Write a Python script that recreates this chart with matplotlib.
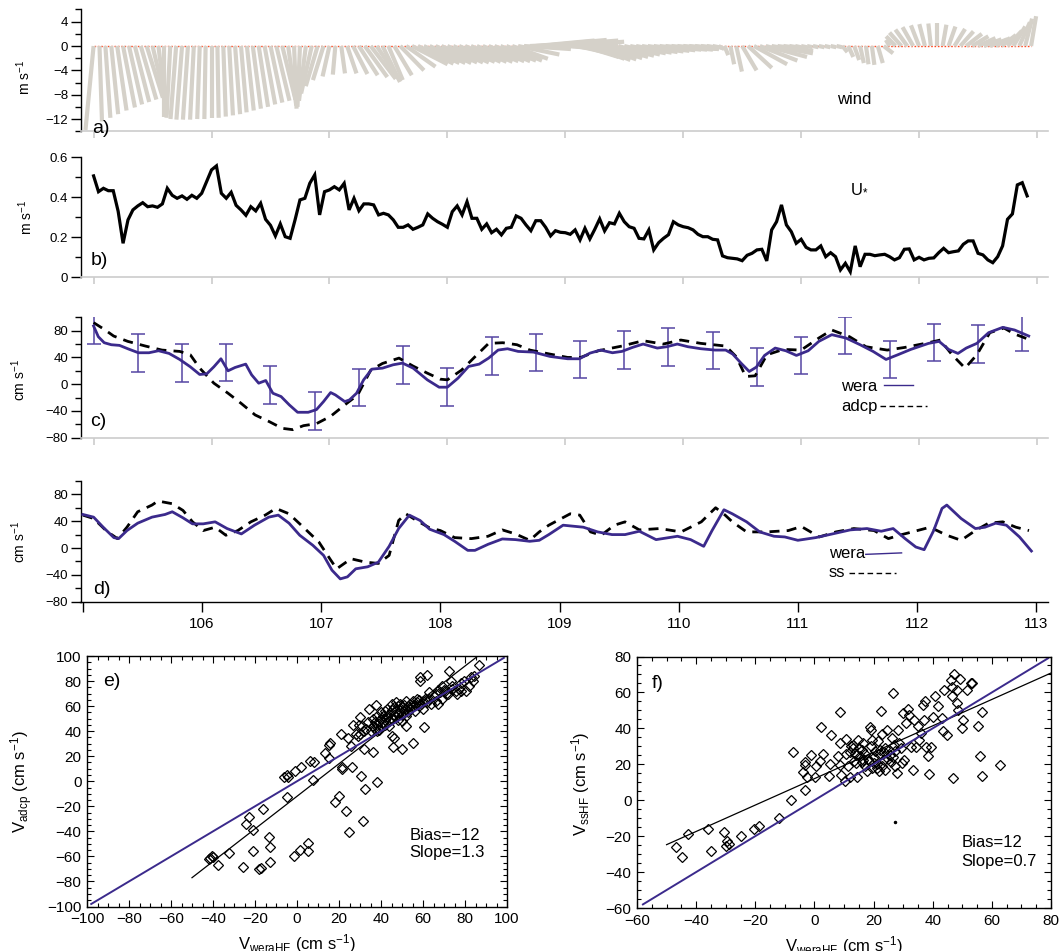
import numpy as np
import matplotlib
matplotlib.use('Agg')
import matplotlib.pyplot as plt
from matplotlib.collections import LineCollection
from matplotlib.ticker import MultipleLocator, FixedLocator, FuncFormatter

plt.rcParams['font.family'] = ['Liberation Sans', 'DejaVu Sans']
plt.rcParams['mathtext.fontset'] = 'custom'
plt.rcParams['mathtext.rm'] = 'Liberation Sans'
plt.rcParams['mathtext.it'] = 'Liberation Sans:italic'
plt.rcParams['mathtext.bf'] = 'Liberation Sans:bold'

# ---------------- data ----------------
# (a) wind sticks, one every 0.05 day from day 105.0 (m/s)
WIND_T0, WIND_DT = 105.0, 0.05
wind_u = [-1.3, 0.4, 0.8, 1.1, 1.5, 1.9, 2.1, 2.3, 2.5, 2.6, 2.3, 1.3,
          0.0, -0.6, -0.9, -0.9, -0.8, -0.6, -0.4, -0.2, 0.0, 0.2, 0.4, 0.6, 0.8, 0.9,
          1.1, 1.3, 1.5, 1.7, 1.9, 2.1, 2.1, 1.3, 0.4, -0.4, -1.1, -1.7, -1.9, -1.7,
          -1.1, -0.4, 0.6, 1.5, 2.3, 3.0, 3.6, 4.0, 3.8, 2.8, 2.3, 2.8, 3.8, 4.7, 5.7,
          5.7, 5.7, 5.7, 5.7, 5.7, 5.7, 5.7, 5.7, 5.7, 5.7, 5.7, 5.7, 5.7, 5.7, 5.7, 5.7,
          5.7, 6.6, 7.5, 8.5, 9.4, 10.4, 11.3, 11.3, 9.4, 6.6, 6.6,
          5.7, 5.7, 5.7, 5.7, 5.7, 5.7, 5.7, 5.7, 5.7, 5.7, 5.7, 5.7, 5.7, 5.7, 5.7, 5.7,
          5.7, 5.7, 5.7,
          4.7, 3.8, 2.8, 1.9, 1.5, 0.9, 0.6, 0.6, 0.9, 2.3, 3.8, 5.3, 6.0, 6.6, 6.6, 5.7,
          3.8, 1.9,
          0.9, 0.9, 0.9, 0.9, 0.9, 0.9, 0.9, 0.9,
          0.8, 0.8, 0.8, 0.6, 0.4, 0.4, 0.8, 1.5,
          -0.6, -1.5, -1.9, -1.9, -1.7, -1.3, -0.9, -0.4, 0.0, 0.6, 1.1, 1.7, 2.1, 2.5,
          2.6, 2.8, 2.8, 2.8, 2.3, 2.3, 2.3, 1.9, 1.7, 1.1, 0.8]
wind_v = [-13.8, -12.4, -11.8, -11.2, -10.6, -10.1, -9.6, -9.2, -8.8, -8.5, -10.0, -11.3,
          -11.6, -11.8, -12.0, -12.1, -12.1, -12.1, -12.0, -12.0, -11.9, -11.8, -11.6,
          -11.4, -11.2, -10.9, -10.6, -10.3, -10.0, -9.6, -9.3, -9.0, -8.8,
          -9.8, -10.3, -10.0, -9.0, -7.8, -6.6, -5.6, -5.0, -4.7, -4.5, -4.5, -4.6, -4.8,
          -5.1, -5.4, -5.8, -5.9, -5.6, -4.8, -4.0, -3.4, -3.0,
          -2.9, -2.8, -2.8, -2.8, -2.7, -2.7, -2.7, -2.6, -2.6, -2.6, -2.6, -2.5, -2.5,
          -2.5, -2.4, -2.4,
          -2.1, -1.4, -0.5, 0.4, 0.9, 1.0, 0.9, 0.7, 0.3, -0.3, -0.8, -1.3, -1.8, -2.1,
          -2.3, -2.2, -2.0, -1.8, -1.6, -1.4, -1.2, -1.1, -1.0, -0.9, -0.8, -0.7, -0.6,
          -0.6, -0.6, -0.5, -0.5, -0.4, -0.3, -0.3, -0.3, -0.5, -1.5, -3.0, -4.2, -4.0,
          -3.6, -3.0, -2.4, -1.8, -1.2, -0.8, -0.5, -0.3,
          -0.2, -0.2, -0.2, -0.2, -0.2, -0.2, -0.2, -0.2,
          -1.0, -1.8, -2.3, -2.8, -3.0, -3.1, -2.8, -1.2,
          1.0, 1.6, 2.2, 2.7, 3.1, 3.4, 3.6, 3.7, 3.7, 3.5, 3.2, 2.8, 2.4, 2.0, 1.6, 1.3,
          1.1, 1.1, 1.3, 1.8, 2.5, 3.2, 3.9, 4.5, 4.9]

# (b) friction velocity, hourly from day 105.0 (m/s)
USTAR_T0, USTAR_DT = 105.0, 1.0 / 24.0
ustar = [0.507, 0.428, 0.445, 0.433, 0.433, 0.33, 0.17, 0.287, 0.337, 0.357, 0.373,
         0.353, 0.357, 0.35, 0.367, 0.445, 0.41, 0.395, 0.407, 0.39, 0.41, 0.395, 0.42,
         0.478, 0.537, 0.557, 0.42, 0.395, 0.425, 0.36, 0.337, 0.31, 0.353, 0.332, 0.37,
         0.29, 0.26, 0.207, 0.267, 0.203, 0.195, 0.287, 0.387, 0.395, 0.47, 0.512, 0.312,
         0.428, 0.437, 0.453, 0.437, 0.47, 0.337, 0.395, 0.333, 0.367, 0.367, 0.362,
         0.312, 0.32, 0.312, 0.287, 0.25, 0.25, 0.262, 0.24, 0.25, 0.262, 0.317, 0.295,
         0.278, 0.265, 0.25, 0.328, 0.357, 0.312, 0.378, 0.295, 0.295, 0.24, 0.267,
         0.223, 0.24, 0.212, 0.245, 0.25, 0.307,
         0.295, 0.262, 0.233, 0.283, 0.283, 0.25, 0.207, 0.233, 0.225, 0.223, 0.215,
         0.237, 0.187, 0.245, 0.192, 0.24, 0.292, 0.232, 0.273, 0.267, 0.32, 0.278,
         0.253, 0.245, 0.195, 0.192, 0.237, 0.137, 0.173, 0.195, 0.213, 0.278, 0.262,
         0.253, 0.248, 0.237, 0.215, 0.203, 0.203, 0.19, 0.187, 0.107, 0.098, 0.095,
         0.092, 0.083, 0.11, 0.12, 0.137, 0.14, 0.082, 0.237, 0.278, 0.362, 0.262, 0.228,
         0.17, 0.19, 0.15, 0.137, 0.137, 0.157, 0.103, 0.123, 0.103, 0.037, 0.07, 0.028,
         0.157, 0.053, 0.115, 0.115, 0.108, 0.112, 0.115, 0.103, 0.087, 0.098, 0.14,
         0.142, 0.087, 0.1, 0.087, 0.095, 0.097, 0.123, 0.145, 0.123, 0.128, 0.132,
         0.165, 0.182, 0.182, 0.12, 0.112, 0.087, 0.073, 0.103, 0.157, 0.29, 0.317,
         0.462, 0.473, 0.407]

# (c) WERA vs ADCP (day, cm/s)
wera_c = [(105.0, 87), (105.04, 71), (105.09, 62), (105.15, 59), (105.22, 58), (105.29, 53),
          (105.38, 47), (105.47, 47), (105.55, 50), (105.64, 46), (105.73, 37), (105.82, 26),
          (105.9, 14.5), (105.96, 15.5), (106.02, 26), (106.08, 38), (106.14, 20), (106.2, 25),
          (106.29, 30), (106.34, 14), (106.4, 1.5), (106.46, 5.5), (106.52, -13.5),
          (106.59, -18.5), (106.66, -31), (106.73, -42), (106.82, -42), (106.89, -38),
          (106.95, -26), (107.01, -12.5), (107.05, -16), (107.13, -26), (107.17, -23.5),
          (107.23, -13.5), (107.29, 6.5), (107.36, 22.5), (107.45, 24), (107.54, 29),
          (107.62, 31.5), (107.71, 24), (107.83, 6.5), (107.93, -4.5), (108.0, -4.5),
          (108.09, 9), (108.18, 26.5), (108.27, 30), (108.35, 39), (108.43, 51), (108.51, 53),
          (108.6, 49), (108.73, 48), (108.87, 41.5), (109.02, 38), (109.12, 38), (109.21, 46.5),
          (109.3, 51), (109.4, 47), (109.48, 49), (109.57, 55), (109.66, 60), (109.78, 54),
          (109.86, 56), (109.95, 60), (110.04, 56), (110.15, 53), (110.27, 51), (110.36, 51),
          (110.42, 45), (110.49, 31.5), (110.56, 19), (110.62, 25.5), (110.69, 43), (110.78, 54),
          (110.87, 50), (110.96, 43), (111.06, 50), (111.15, 64), (111.26, 74), (111.38, 69),
          (111.5, 59), (111.61, 49), (111.72, 37), (111.82, 44), (111.93, 52), (112.08, 61),
          (112.17, 64), (112.25, 52), (112.33, 46), (112.4, 54), (112.49, 61), (112.59, 77),
          (112.71, 85), (112.81, 81), (112.93, 72)]
adcp_c = [(105.0, 92), (105.09, 82), (105.17, 72), (105.29, 64), (105.44, 57), (105.58, 51),
          (105.73, 49), (105.82, 44), (105.9, 24), (106.02, 1.5), (106.14, -13.5),
          (106.25, -28.5), (106.37, -46), (106.49, -56), (106.6, -66), (106.69, -68),
          (106.78, -62), (106.89, -59), (107.01, -48), (107.13, -31), (107.24, -16),
          (107.35, 21), (107.45, 31), (107.59, 39), (107.71, 27), (107.83, 16.5), (107.94, 7.5),
          (108.0, 6.5), (108.12, 21), (108.24, 42), (108.35, 61), (108.47, 62), (108.59, 59),
          (108.7, 51), (108.87, 45), (109.02, 40), (109.13, 40), (109.28, 50), (109.48, 57),
          (109.66, 65), (109.83, 60), (109.98, 66), (110.15, 61), (110.36, 57), (110.45, 41),
          (110.53, 11.5), (110.61, 12.5), (110.71, 44), (110.85, 52), (111.0, 51), (111.15, 69),
          (111.26, 81), (111.41, 71), (111.55, 56), (111.73, 51), (111.88, 55), (112.08, 62),
          (112.18, 66), (112.28, 44), (112.39, 24), (112.49, 44), (112.6, 77), (112.72, 84),
          (112.81, 75), (112.93, 67)]
# WERA error bars every 9 h from day 105.0
ERR_T0, ERR_DT = 105.0, 0.375
err_center = [88, 46.5, 32, 32.5, -1.5, -40, -5, 29, -4.5, 42, 47.5, 37, 51, 55.5, 50, 26,
              42.5, 73, 37, 62, 60, 78]
err_half = 28

# (d) WERA vs SeaSonde (day, cm/s)
wera_d = [(105.0, 50), (105.09, 46), (105.17, 31), (105.26, 15.5), (105.3, 14), (105.37, 26),
          (105.46, 37), (105.58, 46), (105.69, 50), (105.75, 54), (105.84, 45), (105.92, 36),
          (106.01, 36), (106.11, 39), (106.21, 29), (106.33, 21), (106.44, 34), (106.56, 46),
          (106.64, 49), (106.73, 37), (106.82, 19), (106.93, 4), (107.02, -11), (107.09, -33),
          (107.16, -46), (107.22, -43), (107.29, -31), (107.39, -28), (107.48, -21),
          (107.57, 2.5), (107.65, 29), (107.74, 49), (107.83, 41), (107.91, 28), (108.03, 20),
          (108.12, 10), (108.23, -3.5), (108.29, -3.5), (108.4, 5.5), (108.52, 13.5),
          (108.63, 12.5), (108.75, 10), (108.83, 11.5), (108.91, 20), (109.03, 34), (109.2, 31),
          (109.32, 24), (109.44, 20), (109.55, 20), (109.67, 25), (109.81, 12.5), (109.99, 17.5),
          (110.1, 12.5), (110.21, 2.5), (110.28, 26), (110.38, 57), (110.45, 51), (110.57, 39),
          (110.68, 24), (110.8, 17.5), (110.89, 16.5), (111.0, 11.5), (111.15, 15.5),
          (111.29, 21), (111.44, 27), (111.58, 29), (111.7, 25), (111.8, 29), (111.9, 14),
          (111.99, 1.5), (112.06, -2.5), (112.14, 26), (112.21, 59), (112.25, 64), (112.37, 44),
          (112.49, 29), (112.57, 31), (112.66, 37), (112.75, 34), (112.86, 16.5), (112.96, -4.5)]
ss_d = [(105.0, 49), (105.09, 44), (105.2, 25), (105.29, 14), (105.37, 31), (105.46, 54),
        (105.58, 64), (105.63, 70), (105.75, 66), (105.84, 56), (105.92, 39), (106.01, 26),
        (106.11, 31), (106.2, 19), (106.3, 26), (106.41, 39), (106.53, 49), (106.62, 59),
        (106.73, 51), (106.85, 31), (106.98, 9), (107.08, -18), (107.13, -31), (107.25, -16),
        (107.37, -21), (107.48, -23), (107.57, -11), (107.65, 41), (107.71, 51), (107.8, 41),
        (107.91, 30), (108.0, 26), (108.12, 15.5), (108.26, 14), (108.4, 17.5), (108.52, 27),
        (108.63, 21), (108.75, 11.5), (108.83, 24), (108.91, 34), (109.09, 51), (109.17, 49),
        (109.26, 24), (109.35, 19), (109.46, 34), (109.55, 39), (109.67, 27), (109.84, 29),
        (110.02, 24), (110.19, 39), (110.31, 60), (110.39, 49), (110.45, 39), (110.57, 24),
        (110.74, 24), (110.92, 26), (111.03, 32), (111.18, 16.5), (111.32, 24), (111.47, 29),
        (111.64, 26), (111.76, 14), (111.85, 19), (111.96, 24), (112.11, 31), (112.25, 19),
        (112.37, 11.5), (112.49, 26), (112.6, 37), (112.72, 39), (112.83, 31), (112.94, 26)]
day_ticks = [105, 106, 107, 108, 109, 110, 111, 112, 113]

# (e) scatter V_weraHF vs V_adcp
e_pts = [(-42, -62), (-40.7, -59.4), (-40.1, -60.2), (-41.2, -61.2), (-37.5, -66.5),
         (-32.6, -57.5), (-25.7, -68.1), (-24.1, -34.1), (-22.8, -28.8), (-21.1, -38.9),
         (-21.1, -55.4), (-16.2, -22.2), (-17.2, -69.2), (-17.9, -70), (-13.5, -44.8),
         (-12.7, -52.2), (-12.7, -64.7), (-4.8, -12.4), (-1.6, -59.4), (1.2, -54.8),
         (5.3, -49.5), (5.3, -55.4), (-6.1, 3.6), (-4.8, 5.2), (-4.2, 3.6), (-0.9, 7.8),
         (2, 11), (6.1, 15.8), (8.2, 15), (7.8, 0.9), (13.5, 22.2), (15.4, 18.5), (15.1, 29.1),
         (15.9, 30.9), (18, -16.9), (20, -11.6), (21.3, 11.6), (21.6, 9.7), (20.8, 37.6),
         (23.3, -23.5), (24.9, -40.8), (26.2, 11), (24.1, 34.9), (25.7, 28.3), (26.9, 45),
         (28.2, 38.1), (29.5, 45), (30.1, 50.9), (30.6, 4.4), (31.4, -31.5), (32.2, -6.2),
         (31.8, 25.6), (34.4, 57.5), (36.3, 23), (37.6, 61), (38.3, -0.9), (29, 36.3),
         (29.8, 37.6), (45.8, 27), (50.2, 25.6), (55.1, 30.9), (60.5, 43.4), (45.3, 36.3),
         (46.1, 34.9), (51.8, 44.2), (58.4, 80.1), (58.4, 83.3), (62.1, 84.9), (72.2, 88),
         (69, 76.1), (67.3, 61.5), (70.6, 72.1), (73.1, 80.1), (77.1, 73.4), (80.4, 72.1),
         (82, 76.1), (83.7, 80.1), (86.9, 92.8), (73.9, 76.1), (75.5, 72.1), (79.6, 80.1),
         (78, 78.8), (84.5, 84.1), (82.9, 83.3),
         (35, 40), (36, 44), (36, 50), (37, 42), (37, 47), (38, 45), (38, 52), (39, 48),
         (40, 44), (40, 50), (40, 55), (41, 47), (41, 52), (42, 49), (42, 56), (43, 51),
         (43, 58), (44, 48), (44, 54), (45, 50), (45, 57), (45, 62), (46, 53), (46, 59),
         (47, 51), (47, 56), (47, 63), (48, 54), (48, 60), (49, 57), (49, 62), (50, 53),
         (50, 59), (51, 56), (51, 61), (52, 58), (52, 64), (53, 55), (53, 60), (54, 62),
         (54, 58), (55, 60), (55, 64), (56, 61), (57, 63), (57, 66), (58, 60), (58, 65),
         (59, 62), (60, 64), (61, 66), (62, 63), (63, 66), (65, 68), (66, 70), (68, 71),
         (70, 73), (71, 70), (33, 42), (34, 47), (32, 40), (31, 44), (38, 40), (39, 41),
         (42, 45), (44, 44), (48, 49), (50, 48), (52, 52), (56, 56), (60, 58), (64, 62),
         (66, 64), (69, 66), (72, 70), (74, 74), (76, 70), (78, 72), (63, 71), (67, 73)]
e_bias, e_slope = -12, 1.3
e_fit_x = (-50, 86.2)
e_one_x = (-98, 98.5)

# (f) scatter V_weraHF vs V_ssHF
f_pts = [(-46.8, -26.1), (-44.9, -31.6), (-42.8, -18.6), (-36.1, -15.9), (-35.1, -28.1),
         (-30.7, -17.9), (-29.9, -25.3), (-29.4, -22.9), (-29.0, -24.2), (-24.8, -19.8),
         (-20.5, -15.9), (-18.7, -14.6), (-11.9, -9.7), (-7.8, 0.3), (-7.3, 26.6),
         (-3.9, 15.5), (-3.3, 19.7), (-3.2, 21.0), (-3.2, 5.8), (-2.4, 13.2), (-1.2, 25.3),
         (0.2, 13.2), (0.5, 18.8), (1.9, 21.6), (2.2, 40.7), (2.8, 25.9), (4.8, 13.6),
         (5.3, 20.3), (5.6, 36.4), (7.9, 24.4), (8.5, 49.2), (8.5, 19.7), (8.7, 31.8),
         (9.1, 14.2), (10.2, 10.5), (10.6, 34.0), (10.8, 25.9), (11.4, 18.8), (12.0, 13.2),
         (12.5, 30.3), (13.1, 29.0), (13.7, 26.2), (14.2, 20.7), (14.5, 13.2), (14.8, 33.3),
         (15.4, 24.4), (16.0, 28.1), (16.5, 22.5), (17.1, 18.8), (17.7, 16.0), (18.3, 21.6),
         (18.8, 40.7), (19.1, 39.2), (19.4, 33.3), (20.0, 20.7), (20.6, 27.2), (21.1, 17.9),
         (21.7, 16.0), (22.3, 28.1), (22.6, 49.8), (22.9, 37.0), (23.4, 22.5), (24.0, 17.0),
         (24.6, 39.2), (25.2, 28.1), (25.7, 25.3), (26.3, 34.6), (26.6, 59.6), (27.1, 27.2),
         (27.4, 18.8), (28.0, 15.1), (28.2, 39.2), (28.6, 31.8), (29.2, 29.0), (29.7, 20.7),
         (30.1, 48.5), (30.3, 22.5), (30.9, 42.9), (31.5, 50.7), (32.0, 47.6), (32.6, 29.9),
         (33.2, 17.0), (33.8, 44.8), (34.3, 29.9), (34.9, 41.1), (35.5, 33.6), (36.1, 37.4),
         (36.6, 53.1), (37.2, 44.8), (37.4, 55.0), (37.8, 29.9), (38.3, 24.4), (38.9, 14.7),
         (39.5, 29.9), (40.1, 46.6), (40.9, 58.1), (41.8, 52.2), (43.0, 45.7), (43.5, 38.3),
         (43.9, 61.5), (44.7, 36.4), (46.2, 67.0), (46.4, 63.3), (46.6, 58.1), (46.7, 12.1),
         (47.3, 70.4), (48.1, 61.5), (48.7, 50.3), (49.2, 67.4), (49.8, 40.1), (50.4, 44.8),
         (51.5, 61.5), (53.3, 65.5), (55.3, 41.4), (56.1, 24.7), (56.5, 13.6), (56.7, 49.0),
         (62.7, 19.4), (52.9, 65.2), (48.1, 54.0),
         (12, 27), (13, 31), (14, 25), (15, 29), (16, 21), (17, 26), (18, 23), (19, 30),
         (20, 24), (21, 20), (22, 26), (23, 19), (24, 29), (25, 23), (26, 21), (27, 31),
         (13.5, 22), (16.5, 32), (19.5, 18), (21.5, 33), (23.5, 27), (26.5, 24)]
f_dot = (27.1, -12.3)
f_bias, f_slope = 12, 0.735
f_fit_x = (-50, 80)
f_one_x = (-58, 79)

# ---------------- style ----------------
PURPLE = '#3b2a8c'
ERRC = '#5545a3'
STICK = '#d5d1c9'
REDL = '#ff4a22'
GRID = '#cccccc'
WIND_SCALE = 0.053   # days per m/s along the time axis
TS_XLIM = (104.889, 113.09)
D_XLIM = (104.98, 113.096)

W, H = 1063, 951
fig = plt.figure(figsize=(W / 100, H / 100), dpi=100)


def ax_px(l, t, r, b):
    return fig.add_axes([l / W, 1 - b / H, (r - l) / W, (b - t) / H])


axa = ax_px(80.5, 9.5, 1047.6, 131.2)
axb = ax_px(80.5, 157.3, 1047.6, 277.3)
axc = ax_px(80.5, 317.3, 1047.6, 437.7)
axd = ax_px(80.5, 480.9, 1047.6, 601.7)
axe = ax_px(87, 656, 507, 906.5)
axf = ax_px(637, 656.5, 1051, 908)

fmt_g = FuncFormatter(lambda v, p: ('%g' % v).replace('-', '\u2212'))


def style_ts(ax, ylim, major, minor, gray_bottom=True, xlim=TS_XLIM):
    ax.set_xlim(*xlim)
    ax.set_ylim(*ylim)
    ax.patch.set_visible(False)
    for s in ['top', 'right']:
        ax.spines[s].set_visible(False)
    ax.spines['left'].set_linewidth(1.0)
    ax.yaxis.set_major_locator(MultipleLocator(major))
    ax.yaxis.set_minor_locator(MultipleLocator(minor))
    ax.yaxis.set_major_formatter(fmt_g)
    ax.tick_params(axis='y', which='major', direction='out', length=7.5, width=1.0,
                   labelsize=9.5, pad=1.5)
    ax.tick_params(axis='y', which='minor', direction='out', length=4, width=1.0)
    ax.xaxis.set_major_locator(FixedLocator(day_ticks))
    if gray_bottom:
        ax.spines['bottom'].set_color(GRID)
        ax.spines['bottom'].set_linewidth(1.2)
        ax.tick_params(axis='x', which='major', direction='out', length=5, width=1.2,
                       color=GRID, labelbottom=False)
    else:
        ax.spines['bottom'].set_linewidth(1.0)
        ax.tick_params(axis='x', which='major', direction='out', length=7, width=1.0,
                       labelsize=11, pad=4)


# (a) wind sticks
style_ts(axa, (-14, 6), 4, 2)
n = min(len(wind_u), len(wind_v))
wt = WIND_T0 + WIND_DT * np.arange(n)
segs = [[(t, 0.0), (t + u * WIND_SCALE, v)] for t, u, v in zip(wt, wind_u[:n], wind_v[:n])]
axa.add_collection(LineCollection(segs, colors=STICK, linewidths=3.0, capstyle='butt', zorder=2))
axa.plot([wt[0], wt[-1]], [0, 0], color=REDL, lw=1.0, ls=(0, (1.2, 1.2)), zorder=1)
axa.text(0.7996, 0.262, 'wind', transform=axa.transAxes, ha='center', va='center', fontsize=12)
axa.text(0.012, -0.017, 'a)', transform=axa.transAxes, ha='left', va='baseline', fontsize=14)

# (b) u*
style_ts(axb, (0, 0.6), 0.2, 0.1)
ut = USTAR_T0 + USTAR_DT * np.arange(len(ustar))
axb.plot(ut, ustar, color='black', lw=2.3, solid_joinstyle='miter')
axb.text(0.8055, 0.742, r'U$_{*}$', transform=axb.transAxes, ha='center', va='center', fontsize=12)
axb.text(0.011, 0.1025, 'b)', transform=axb.transAxes, ha='left', va='baseline', fontsize=14)

# (c) wera vs adcp
style_ts(axc, (-80, 100), 40, 20)
wc = np.array(wera_c).T
ac = np.array(adcp_c).T
et = ERR_T0 + ERR_DT * np.arange(len(err_center))
axc.errorbar(et, err_center, yerr=err_half, fmt='none', ecolor=ERRC, elinewidth=1.1,
             capsize=5, capthick=1.1, zorder=2)
axc.plot(ac[0], ac[1], color='black', lw=2.0, ls=(0, (3.6, 2.6)), zorder=3)
axc.plot(wc[0], wc[1], color=PURPLE, lw=2.0, zorder=4)
axc.text(0.7864, 0.4236, 'wera', transform=axc.transAxes, ha='left', va='center', fontsize=12)
axc.plot([0.831, 0.861], [0.435, 0.435], transform=axc.transAxes, color=PURPLE, lw=1.0)
axc.text(0.7864, 0.263, 'adcp', transform=axc.transAxes, ha='left', va='center', fontsize=12)
axc.plot([0.827, 0.875], [0.263, 0.263], transform=axc.transAxes, color='black', lw=1.0,
         ls=(0, (4, 2.5)))
axc.text(0.0103, 0.097, 'c)', transform=axc.transAxes, ha='left', va='baseline', fontsize=14)

# (d) wera vs ss
style_ts(axd, (-80, 100), 40, 20, gray_bottom=False, xlim=D_XLIM)
axd.xaxis.set_major_formatter(FuncFormatter(lambda v, p: '' if v < 105.5 else '%d' % v))
wd = np.array(wera_d).T
sd = np.array(ss_d).T
axd.plot(sd[0], sd[1], color='black', lw=2.0, ls=(0, (3.6, 2.6)), zorder=3)
axd.plot(wd[0], wd[1], color=PURPLE, lw=2.0, zorder=4)
axd.text(0.774, 0.395, 'wera', transform=axd.transAxes, ha='left', va='center', fontsize=12)
axd.plot([0.812, 0.849], [0.392, 0.404], transform=axd.transAxes, color=PURPLE, lw=1.0)
axd.text(0.774, 0.24, 'ss', transform=axd.transAxes, ha='left', va='center', fontsize=12)
axd.plot([0.795, 0.843], [0.24, 0.24], transform=axd.transAxes, color='black', lw=1.0,
         ls=(0, (4, 2.5)))
axd.text(0.0129, 0.064, 'd)', transform=axd.transAxes, ha='left', va='baseline', fontsize=14)

# y labels of the time-series panels
fig.text(24 / W, 1 - 77.5 / H, r'm s$^{-1}$', rotation=90, ha='center', va='center', fontsize=10)
fig.text(26 / W, 1 - 217 / H, r'm s$^{-1}$', rotation=90, ha='center', va='center', fontsize=10)
fig.text(19 / W, 1 - 380 / H, r'cm s$^{-1}$', rotation=90, ha='center', va='center', fontsize=10)
fig.text(19 / W, 1 - 541.5 / H, r'cm s$^{-1}$', rotation=90, ha='center', va='center', fontsize=10)


def style_sc(ax, lim):
    ax.set_xlim(*lim)
    ax.set_ylim(*lim)
    for s in ax.spines.values():
        s.set_linewidth(1.0)
    ax.xaxis.set_major_locator(MultipleLocator(20))
    ax.yaxis.set_major_locator(MultipleLocator(20))
    ax.xaxis.set_minor_locator(MultipleLocator(5))
    ax.yaxis.set_minor_locator(MultipleLocator(5))
    ax.xaxis.set_major_formatter(fmt_g)
    ax.yaxis.set_major_formatter(fmt_g)
    ax.tick_params(which='both', direction='in', top=True, right=True, width=0.8)
    ax.tick_params(which='major', length=5, labelsize=11, pad=4)
    ax.tick_params(which='minor', length=3)


# (e)
style_sc(axe, (-100, 100))
ep = np.array(e_pts).T
axe.plot(ep[0], ep[1], ls='none', marker='D', ms=5.6, mfc='none', mec='black', mew=0.9)
ex = np.array(e_fit_x)
axe.plot(ex, e_slope * ex + e_bias, color='black', lw=0.9)
ox = np.array(e_one_x)
axe.plot(ox, ox, color=PURPLE, lw=1.4)
axe.text(53.5, -46.9, 'Bias=\u221212', fontsize=12, ha='left', va='baseline')
axe.text(53.5, -60.5, 'Slope=1.3', fontsize=12, ha='left', va='baseline')
axe.text(0.038, 0.88, 'e)', transform=axe.transAxes, ha='left', va='baseline', fontsize=14)
axe.set_xlabel(r'V$_{\mathrm{weraHF}}$ (cm s$^{-1}$)', fontsize=12)
axe.xaxis.set_label_coords(0.5, -0.104)
fig.text(22 / W, 1 - 781.5 / H, r'V$_{\mathrm{adcp}}$ (cm s$^{-1}$)', rotation=90, ha='center',
         va='center', fontsize=12)

# (f)
style_sc(axf, (-60, 80))
fp = np.array(f_pts).T
axf.plot(fp[0], fp[1], ls='none', marker='D', ms=5.6, mfc='none', mec='black', mew=0.9)
axf.plot([f_dot[0]], [f_dot[1]], ls='none', marker='o', ms=1.5, color='black')
fx = np.array(f_fit_x)
axf.plot(fx, f_slope * fx + f_bias, color='black', lw=0.9)
ox = np.array(f_one_x)
axf.plot(ox, ox, color=PURPLE, lw=1.4)
axf.text(49.8, -25.9, 'Bias=12', fontsize=12, ha='left', va='baseline')
axf.text(49.8, -36.6, 'Slope=0.7', fontsize=12, ha='left', va='baseline')
axf.text(0.036, 0.875, 'f)', transform=axf.transAxes, ha='left', va='baseline', fontsize=14)
axf.set_xlabel(r'V$_{\mathrm{weraHF}}$ (cm s$^{-1}$)', fontsize=12)
axf.xaxis.set_label_coords(0.5, -0.104)
fig.text(581 / W, 1 - 783.5 / H, r'V$_{\mathrm{ssHF}}$ (cm s$^{-1}$)', rotation=90, ha='center',
         va='center', fontsize=12)

fig.savefig('out.png', dpi=100)
